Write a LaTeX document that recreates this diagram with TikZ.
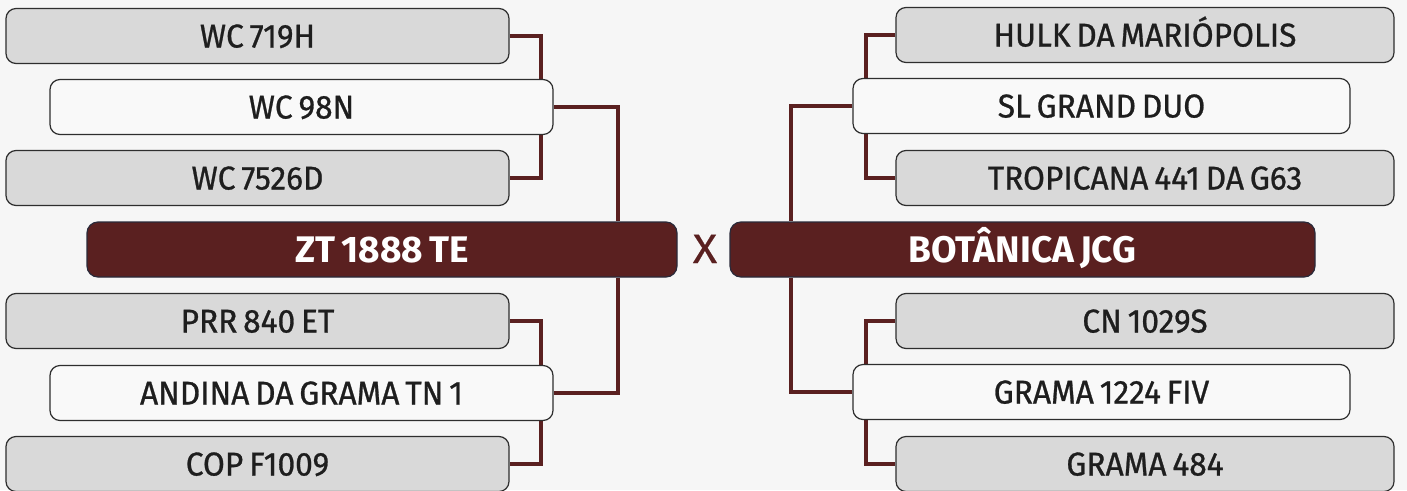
\documentclass[tikz,border=0pt]{standalone}
\usepackage{fontspec}
\setmainfont{Fira Sans}[FakeStretch=0.96, WordSpace=0.7, UprightFeatures={FakeBold=0.8}, BoldFeatures={FakeStretch=1.0}]
\newfontfamily\vsfont{Fira Sans}[FakeStretch=1.1, FakeBold=0.4]
\pgfdeclarelayer{back}
\pgfdeclarelayer{bg}
\pgfsetlayers{back,bg,main}
\definecolor{maroon}{HTML}{5A2020}
\definecolor{boxgray}{HTML}{D9D9D9}
\definecolor{boxwhite}{HTML}{F9F9F9}
\definecolor{edge}{HTML}{2E2E2E}
\definecolor{txt}{HTML}{1E1E1E}
\definecolor{page}{HTML}{F6F6F6}
\definecolor{mainedge}{HTML}{2A2A3A}
\tikzset{
  base/.style={rounded corners=10pt, inner sep=0pt, minimum height=55pt, line width=1.2pt, draw=edge,
    font=\fontsize{33}{36}\selectfont, text=txt, text height=23pt, text depth=0pt},
  graybox/.style={base, fill=boxgray, minimum width=503pt},
  whitebox/.style={base, fill=boxwhite, minimum width=503pt},
  mainbox/.style={rounded corners=11pt, inner sep=0pt, minimum height=55pt, line width=1.2pt,
    draw=mainedge, fill=maroon, text=white, font=\fontsize{37}{40}\selectfont\bfseries,
    text height=25pt, text depth=0pt},
  link/.style={draw=maroon, line width=4pt}
}
\begin{document}
\begin{tikzpicture}[x=1pt,y=-1pt]
\begin{pgfonlayer}{back}
\fill[page] (0,0) rectangle (1407,490);
\end{pgfonlayer}
\useasboundingbox (0,0) rectangle (1407,490);
% left
\node[graybox] (wc719) at (257.5,36) {WC 719H};
\node[whitebox] (wc98) at (301.5,107) {WC 98N};
\node[graybox] (wc7526) at (257.5,178) {WC 7526D};
\node[mainbox, minimum width=590pt] (zt) at (382,249.5) {ZT 1888 TE};
\node[graybox] (prr) at (257.5,321) {PRR 840 ET};
\node[whitebox] (andina) at (301.5,393) {ANDINA DA GRAMA TN 1};
\node[graybox] (cop) at (257.5,464) {COP F1009};
% right
\node[graybox, minimum width=498pt] (hulk) at (1145,35) {HULK DA MARIÓPOLIS};
\node[whitebox, minimum width=497pt] (sl) at (1101.5,106) {SL GRAND DUO};
\node[graybox, minimum width=498pt] (trop) at (1145,178) {TROPICANA 441 DA G63};
\node[mainbox, minimum width=585pt] (bot) at (1022.5,249.5) {BOTÂNICA JCG};
\node[graybox, minimum width=498pt] (cn) at (1145,321) {CN 1029S};
\node[whitebox, minimum width=497pt] (g1224) at (1101.5,392) {GRAMA 1224 FIV};
\node[graybox, minimum width=498pt] (g484) at (1145,464) {GRAMA 484};
% versus
\node[text=maroon, font=\vsfont\fontsize{41}{44}\selectfont, text height=28pt, text depth=0pt, inner sep=0pt] (vs) at (705,249) {X};
\begin{pgfonlayer}{bg}
\draw[link] (wc719.east) -- ++(31,0) |- (wc7526.east);
\draw[link] (wc98.east) -| ([xshift=-60pt]zt.north east);
\draw[link] ([xshift=-60pt]zt.south east) |- (andina.east);
\draw[link] (prr.east) -- ++(31,0) |- (cop.east);
\draw[link] (hulk.west) -- ++(-29,0) |- (trop.west);
\draw[link] (sl.west) -| ([xshift=62pt]bot.north west);
\draw[link] ([xshift=62pt]bot.south west) |- (g1224.west);
\draw[link] (cn.west) -- ++(-29,0) |- (g484.west);
\end{pgfonlayer}
\end{tikzpicture}
\end{document}
